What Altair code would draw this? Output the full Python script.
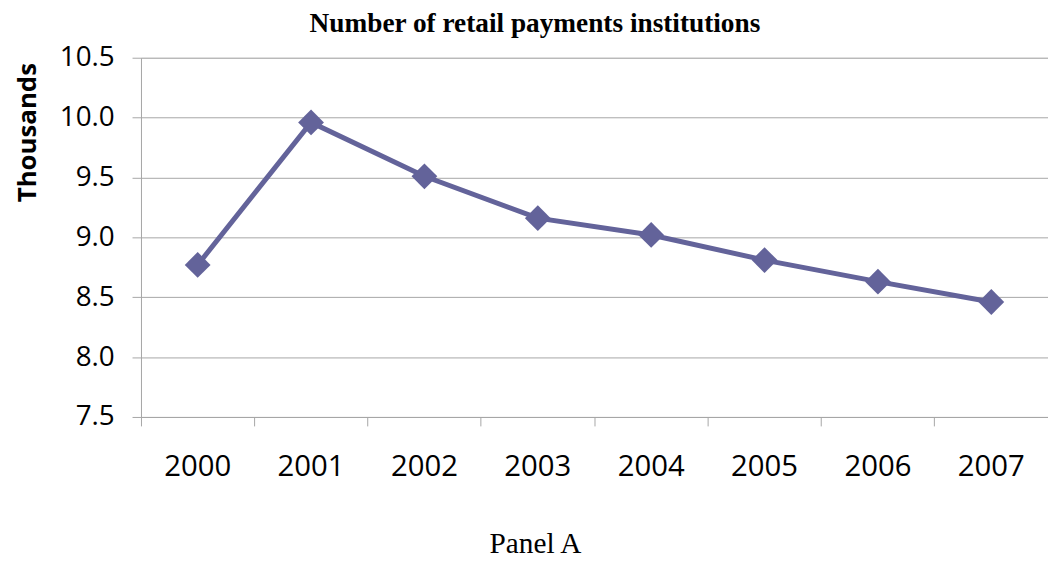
import altair as alt
import pandas as pd

years = ["2000", "2001", "2002", "2003", "2004", "2005", "2006", "2007"]
values = [8.77, 9.96, 9.51, 9.16, 9.02, 8.81, 8.63, 8.46]
y_ticks = [7.5, 8.0, 8.5, 9.0, 9.5, 10.0, 10.5]

df = pd.DataFrame({"year": years, "value": values})

W, H = 914, 362
GRAY = "#a6a6a6"
LINE = "#63639a"

x_enc = alt.X(
    "year:O",
    sort=years,
    scale=alt.Scale(type="band", paddingInner=0, paddingOuter=0),
    axis=alt.Axis(
        title="Panel A",
        titleFont="Liberation Serif",
        titleFontSize=29.5,
        titleFontWeight="normal",
        titleColor="black",
        titleX=397,
        titleY=137,
        titleAlign="center",
        titleBaseline="alphabetic",
        bandPosition=0,
        labelAngle=0,
        labelFont="Open Sans",
        labelFontSize=29.5,
        labelColor="black",
        labelPadding=27,
        tickSize=9,
        tickColor=GRAY,
        domainColor=GRAY,
        grid=False,
    ),
)

y_enc = alt.Y(
    "value:Q",
    scale=alt.Scale(domain=[7.5, 10.5], nice=False, zero=False),
    axis=alt.Axis(
        title="Thousands",
        titleFont="Open Sans",
        titleFontSize=26,
        titleFontWeight="bold",
        titleColor="black",
        titleAngle=-90,
        titleX=-114,
        titleY=75,
        titleAlign="center",
        titleBaseline="middle",
        values=y_ticks,
        format=".1f",
        labelFont="Open Sans",
        labelFontSize=28,
        labelColor="black",
        labelPadding=18,
        tickSize=9,
        tickColor=GRAY,
        domainColor=GRAY,
        gridColor=GRAY,
        gridWidth=1,
    ),
)

base = alt.Chart(df).encode(x=x_enc, y=y_enc)

line = base.mark_line(color=LINE, strokeWidth=5)
pts = base.mark_point(shape="diamond", filled=True, size=676, color=LINE, opacity=1)

chart = (
    alt.layer(line, pts)
    .properties(
        width=W,
        height=H,
        title=alt.TitleParams(
            "Number of retail payments institutions",
            font="Liberation Serif",
            fontSize=27.5,
            fontWeight="bold",
            color="black",
            anchor="middle",
            dx=-60,
            dy=-2,
        ),
        autosize=alt.AutoSizeParams(type="none"),
        padding={"left": 134, "top": 48, "right": 0, "bottom": 140},
    )
    .configure_view(stroke=None)
    .configure(background="white")
)

chart.save("out.html", embed_options={"renderer": "svg", "actions": False})
